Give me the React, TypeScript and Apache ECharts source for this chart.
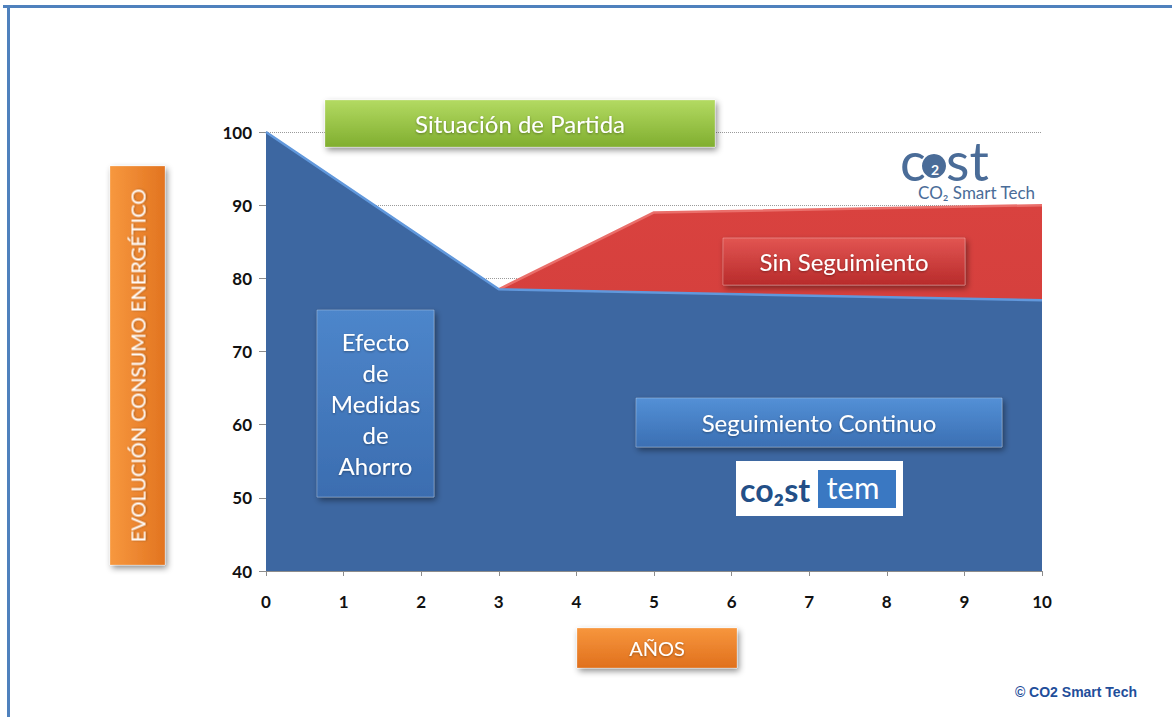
import React, { useEffect, useRef } from "react";
import * as echarts from "echarts";

const xTicks = [0, 1, 2, 3, 4, 5, 6, 7, 8, 9, 10];
const yTicks = [40, 50, 60, 70, 80, 90, 100];
const continuoYears = [0, 3, 10];
const continuoValues = [100, 78.5, 77];
const sinYears = [3, 5, 10];
const sinValues = [78.5, 89, 90];

const FONT = "Lato, 'Open Sans', sans-serif";

function box(
  x: number, y: number, w: number, h: number,
  c1: string, c2: string, text: string, fontSize: number, lineHeight?: number, rotate?: boolean
) {
  return {
    type: "group",
    z: 20,
    children: [
      {
        type: "rect",
        z: 20,
        shape: { x, y, width: w, height: h },
        style: {
          fill: new echarts.graphic.LinearGradient(0, 0, rotate ? 1 : 0, rotate ? 0 : 1, [
            { offset: 0, color: c1 },
            { offset: 1, color: c2 },
          ]),
          stroke: "rgba(255,255,255,0.25)",
          lineWidth: 1,
          shadowBlur: 6,
          shadowOffsetX: 2,
          shadowOffsetY: 3,
          shadowColor: "rgba(0,0,0,0.45)",
        },
      },
      {
        type: "text",
        z: 21,
        x: x + w / 2,
        y: y + h / 2,
        rotation: rotate ? Math.PI / 2 : 0,
        style: {
          text,
          fill: "#ffffff",
          font: `${fontSize}px ${FONT}`,
          align: "center",
          verticalAlign: "middle",
          lineHeight: lineHeight || fontSize * 1.2,
          textShadowColor: "rgba(0,0,0,0.35)",
          textShadowBlur: 2,
          textShadowOffsetY: 1,
        },
      },
    ],
  };
}

export default function App() {
  const ref = useRef<HTMLDivElement>(null);
  useEffect(() => {
    if (!ref.current) return;
    const chart = echarts.init(ref.current, null, { renderer: "svg" });
    const option: any = {
      animation: false,
      backgroundColor: "#ffffff",
      grid: { left: 266, right: 130, top: 132, bottom: 146, containLabel: false },
      xAxis: {
        type: "value",
        min: xTicks[0],
        max: xTicks[xTicks.length - 1],
        interval: 1,
        axisLine: { show: true, lineStyle: { color: "#8c8c8c", width: 1 } },
        axisTick: { show: true, length: 5, lineStyle: { color: "#8c8c8c" } },
        axisLabel: {
          margin: 22,
          color: "#111",
          fontSize: 17,
          fontWeight: "bold",
          fontFamily: FONT,
        },
        splitLine: { show: false },
      },
      yAxis: {
        type: "value",
        min: yTicks[0],
        max: yTicks[yTicks.length - 1],
        interval: 10,
        axisLine: { show: true, lineStyle: { color: "#8c8c8c", width: 1 } },
        axisTick: { show: true, length: 7, lineStyle: { color: "#8c8c8c" } },
        axisLabel: {
          margin: 14,
          color: "#111",
          fontSize: 17,
          fontWeight: "bold",
          fontFamily: FONT,
        },
        splitLine: { show: true, lineStyle: { color: "#9a9a9a", type: "dotted", width: 1 } },
      },
      series: [
        {
          name: "Sin Seguimiento",
          type: "line",
          data: sinYears.map((x, i) => [x, sinValues[i]]),
          symbol: "none",
          lineStyle: { color: "#ea6f6b", width: 2.5 },
          areaStyle: {
            origin: "start",
            color: new echarts.graphic.LinearGradient(0, 0, 0, 1, [
              { offset: 0, color: "#d9423f" },
              { offset: 1, color: "#cc3a38" },
            ]),
            opacity: 1,
          },
          z: 2,
        },
        {
          name: "Seguimiento Continuo",
          type: "line",
          data: continuoYears.map((x, i) => [x, continuoValues[i]]),
          symbol: "none",
          lineStyle: { color: "#6198dc", width: 2.5 },
          areaStyle: { origin: "start", color: "#3d67a1", opacity: 1 },
          z: 3,
        },
      ],
      graphic: [
        { type: "rect", z: 100, shape: { x: 3, y: 5, width: 1169, height: 3 }, style: { fill: "#4f81bd" } },
        { type: "rect", z: 100, shape: { x: 7, y: 5, width: 3, height: 712 }, style: { fill: "#4f81bd" } },
        box(325, 100, 390, 47, "#b3da62", "#80ae2f", "Situación de Partida", 24),
        box(723, 238, 242, 47, "#e25552", "#b82b2b", "Sin Seguimiento", 24),
        box(317, 310, 117, 187, "#4d86cb", "#3b6db0", "Efecto\nde\nMedidas\nde\nAhorro", 24, 31),
        box(636, 398, 366, 49, "#5390d6", "#3b6fb3", "Seguimiento Continuo", 24),
        box(110, 166, 55, 399, "#f7983f", "#e27420", "EVOLUCIÓN CONSUMO ENERGÉTICO", 20, 22, true),
        box(577, 628, 160, 40, "#f7963d", "#e0701d", "AÑOS", 20),
        // cost logo
        {
          type: "text",
          z: 30,
          x: 900,
          y: 160,
          style: { text: "c", fill: "#4a6c98", font: `54px ${FONT}`, lineHeight: 30, align: "left", verticalAlign: "middle" },
        },
        { type: "circle", z: 30, shape: { cx: 934, cy: 166, r: 12 }, style: { fill: "#4a6c98" } },
        {
          type: "text",
          z: 31,
          x: 935,
          y: 169,
          style: { text: "2", fill: "#ffffff", font: `bold 14px ${FONT}`, align: "center", verticalAlign: "middle" },
        },
        {
          type: "text",
          z: 30,
          x: 946,
          y: 160,
          style: { text: "st", fill: "#4a6c98", font: `54px ${FONT}`, lineHeight: 30, align: "left", verticalAlign: "middle" },
        },
        {
          type: "text",
          z: 30,
          x: 1035,
          y: 192,
          style: { text: "CO₂ Smart Tech", fill: "#4a6c98", font: `17px ${FONT}`, align: "right", verticalAlign: "middle" },
        },
        // costem logo
        {
          type: "rect",
          z: 50,
          shape: { x: 736, y: 461, width: 167, height: 55 },
          style: { fill: "#ffffff" },
        },
        {
          type: "text",
          z: 51,
          x: 740,
          y: 489,
          style: { text: "co₂st", fill: "#234f87", font: `bold 32px ${FONT}`, align: "left", verticalAlign: "middle" },
        },
        {
          type: "rect",
          z: 51,
          shape: { x: 818, y: 470, width: 78, height: 38 },
          style: { fill: "#3a78c2" },
        },
        {
          type: "text",
          z: 52,
          x: 853,
          y: 487,
          style: { text: "tem", fill: "#ffffff", font: `31px ${FONT}`, align: "center", verticalAlign: "middle" },
        },
        {
          type: "text",
          z: 30,
          x: 1137,
          y: 692,
          style: {
            text: "© CO2 Smart Tech",
            fill: "#1f4e9a",
            font: "bold 14px 'Liberation Sans', Arial, sans-serif",
            align: "right",
            verticalAlign: "middle",
          },
        },
      ],
    };
    chart.setOption(option);
    return () => chart.dispose();
  }, []);
  return (
    <div
      ref={ref}
      style={{ position: "absolute", left: 0, top: 0, width: 1172, height: 717, background: "#fff" }}
    />
  );
}
